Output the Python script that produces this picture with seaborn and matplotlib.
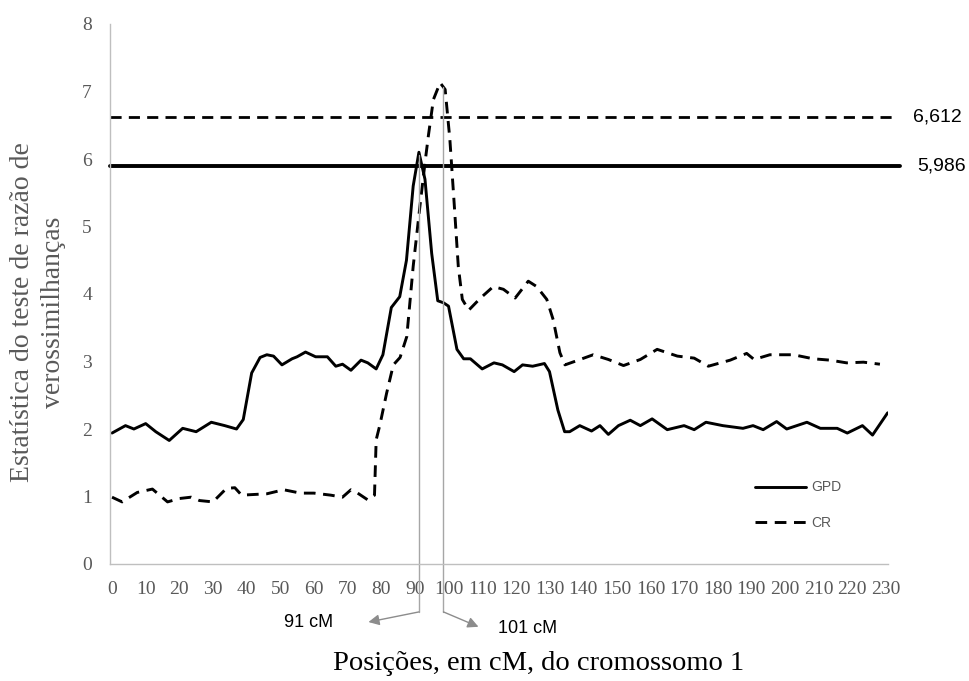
import numpy as np
import pandas as pd
import matplotlib
matplotlib.use('Agg')
import matplotlib.pyplot as plt
import seaborn as sns

# Posicoes (cM) e estatisticas LR
gpd_pos = [0, 4, 6.5, 10, 13, 17, 21, 25, 29.5, 33.5, 37, 39, 41.5, 44, 46, 48,
           50.5, 53.5, 55, 57.5, 60.5, 64, 66.5, 68.5, 71, 74, 76, 78.5, 80.5,
           83, 85.5, 87.5, 89.5, 91.2, 93, 95, 96.8, 98.5, 100, 102.5, 104.5,
           106.5, 110, 113.5, 116, 119.5, 122, 125, 128.5, 130, 132.5, 134.5,
           136, 139, 142.5, 145, 147.5, 150.5, 154, 157, 160.5, 165, 170, 173,
           176.5, 181.5, 187.5, 190.5, 193.5, 197.5, 200.5, 206.5, 210.5, 215.5,
           218.5, 223, 226, 230.5]
gpd_val = [1.94, 2.05, 2.00, 2.08, 1.96, 1.83, 2.01, 1.96, 2.10, 2.05, 2.00, 2.14,
           2.83, 3.06, 3.10, 3.08, 2.95, 3.04, 3.07, 3.14, 3.07, 3.07, 2.93, 2.96,
           2.87, 3.02, 2.98, 2.89, 3.10, 3.80, 3.96, 4.50, 5.60, 6.10, 5.70, 4.60,
           3.90, 3.87, 3.82, 3.18, 3.04, 3.04, 2.89, 2.98, 2.95, 2.85, 2.95, 2.93,
           2.97, 2.85, 2.28, 1.96, 1.96, 2.05, 1.97, 2.05, 1.92, 2.05, 2.13, 2.05,
           2.15, 1.99, 2.05, 1.99, 2.10, 2.05, 2.01, 2.05, 1.99, 2.11, 2.00, 2.10,
           2.01, 2.01, 1.94, 2.05, 1.91, 2.24]

cr_pos = [0, 3, 7.5, 12, 16.5, 20, 23.5, 26, 30, 34, 36.5, 38.5, 46, 51, 56, 60,
          65, 68.5, 71, 73, 76, 78, 78.5, 79.6, 81.6, 83.6, 85.6, 87.6, 89.5,
          91.5, 93, 94, 95.5, 97.5, 99, 100.4, 101.6, 102.9, 104.1, 106, 109.5,
          113.3, 116.3, 119.8, 123.7, 126.2, 129.2, 131.1, 133.1, 134.6, 138,
          143, 147.5, 152, 157, 162, 168, 173, 177.2, 183.7, 188.6, 190.8, 195.5,
          202.5, 208.4, 213.4, 218.3, 223.3, 228.2]
cr_val = [0.99, 0.92, 1.06, 1.11, 0.92, 0.97, 0.99, 0.94, 0.92, 1.12, 1.13, 1.02,
          1.04, 1.10, 1.05, 1.05, 1.02, 0.99, 1.10, 1.05, 0.95, 1.02, 1.84, 2.06,
          2.53, 2.95, 3.06, 3.37, 4.41, 5.30, 5.94, 6.34, 6.88, 7.13, 7.03, 6.29,
          5.40, 4.41, 3.92, 3.76, 3.94, 4.11, 4.07, 3.94, 4.19, 4.11, 3.92, 3.62,
          3.13, 2.95, 3.01, 3.10, 3.03, 2.94, 3.03, 3.18, 3.08, 3.05, 2.93, 3.02,
          3.12, 3.03, 3.10, 3.10, 3.04, 3.02, 2.98, 2.99, 2.96]

# Limiares
limiar_cr = 6.62
limiar_gpd = 5.89
limiar_labels = ['6,612', '5,986']

# Marcadores dos picos
pico_pos = [91.2, 98.5]
pico_top = [6.06, 7.07]
pico_labels = ['91 cM', '101 cM']

x_ticks = list(range(0, 231, 10))
y_ticks = list(range(0, 9))

gpd_df = pd.DataFrame({'pos': gpd_pos, 'lr': gpd_val})
cr_df = pd.DataFrame({'pos': cr_pos, 'lr': cr_val})

sns.set_style('white')
serif = ['Liberation Serif', 'DejaVu Serif']
sans = ['Liberation Sans', 'DejaVu Sans']
grey = '#595959'

fig = plt.figure(figsize=(9.7, 6.81), dpi=100)
ax = fig.add_axes([110 / 970, 1 - 564 / 681, 778 / 970, 540 / 681])

sns.lineplot(data=gpd_df, x='pos', y='lr', ax=ax, color='black', lw=2.1,
             label='GPD')
sns.lineplot(data=cr_df, x='pos', y='lr', ax=ax, color='black', lw=2.1,
             label='CR')
ax.lines[1].set_dashes((4, 2.6))
for ln in ax.lines:
    ln.set_solid_joinstyle('round')
    ln.set_dash_joinstyle('round')

ax.set_xlim(-0.6, 230.6)
ax.set_ylim(0, 8)

# linhas de limiar (passam um pouco do fim do eixo)
ax.axhline(limiar_cr, xmin=0, xmax=1.005, color='black', lw=2.0,
           dashes=(4, 2.6), clip_on=False)
ax.axhline(limiar_gpd, xmin=0, xmax=1.015, color='black', lw=2.8,
           clip_on=False)
ax.text(1.064, limiar_cr, limiar_labels[0], transform=ax.get_yaxis_transform(),
        fontsize=14, family=sans, va='center', ha='center', color='black')
ax.text(1.069, limiar_gpd, limiar_labels[1], transform=ax.get_yaxis_transform(),
        fontsize=14, family=sans, va='center', ha='center', color='black')

# linhas cinzas dos picos + setas
ax.plot([pico_pos[0], pico_pos[0]], [pico_top[0], -0.71], color='#a6a6a6',
        lw=1.0, clip_on=False)
ax.plot([pico_pos[1], pico_pos[1]], [pico_top[1], -0.71], color='#a6a6a6',
        lw=1.0, clip_on=False)
ax.annotate('', xy=(76.2, -0.86), xytext=(pico_pos[0], -0.71),
            arrowprops=dict(arrowstyle='-|>', color='#8c8c8c', lw=1.0,
                            mutation_scale=16, shrinkA=0, shrinkB=0),
            annotation_clip=False)
ax.annotate('', xy=(108.9, -0.93), xytext=(pico_pos[1], -0.71),
            arrowprops=dict(arrowstyle='-|>', color='#8c8c8c', lw=1.0,
                            mutation_scale=16, shrinkA=0, shrinkB=0),
            annotation_clip=False)
ax.text(58.5, -0.86, pico_labels[0], fontsize=13, family=sans, ha='center',
        va='center', color='black', clip_on=False)
ax.text(123.5, -0.95, pico_labels[1], fontsize=13, family=sans, ha='center',
        va='center', color='black', clip_on=False)

# eixos
ax.set_xticks(x_ticks)
ax.set_yticks(y_ticks)
ax.tick_params(axis='both', length=0, labelcolor=grey, labelsize=14)
ax.tick_params(axis='x', pad=12)
ax.tick_params(axis='y', pad=13)
for lab in ax.get_xticklabels() + ax.get_yticklabels():
    lab.set_family(serif)
for side in ['top', 'right']:
    ax.spines[side].set_visible(False)
for side in ['left', 'bottom']:
    ax.spines[side].set_color('#bfbfbf')
    ax.spines[side].set_linewidth(1.0)

ax.set_xlabel('Posições, em cM, do cromossomo 1', fontsize=20.5, family=serif,
              color='black')
ax.xaxis.set_label_coords((539 - 110) / 778, -(664 - 564) / 540)
ax.xaxis.label.set_verticalalignment('center')
ax.set_ylabel('Estatística do teste de razão de\nverossimilhanças', fontsize=20,
              family=serif, color=grey, linespacing=1.3)
ax.yaxis.set_label_coords((38 - 110) / 778, (564 - 312) / 540)
ax.yaxis.label.set_verticalalignment('center')

leg = ax.legend(loc='upper left', bbox_to_anchor=(0.813, 0.178), frameon=False,
                handlelength=3.7, labelspacing=1.55, handletextpad=0.35,
                prop={'family': sans, 'size': 10})
for t in leg.get_texts():
    t.set_color(grey)

fig.savefig('out.png', dpi=100)
